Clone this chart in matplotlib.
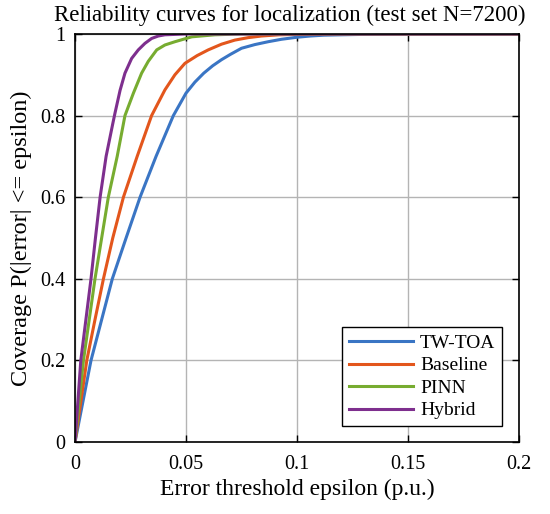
import matplotlib
matplotlib.use("Agg")
import matplotlib.pyplot as plt

plt.rcParams['font.family'] = ['Liberation Serif', 'DejaVu Serif']

labels = ["TW-TOA", "Baseline", "PINN", "Hybrid"]
colors = ["#3a75c4", "#e3561c", "#77ac30", "#7e2f8e"]

tw_x = [0, 0.0036, 0.0072, 0.012, 0.0168, 0.023, 0.0293, 0.0365, 0.0443, 0.050,
        0.054, 0.058, 0.062, 0.066, 0.070, 0.075, 0.081, 0.087, 0.093, 0.100,
        0.106, 0.112, 0.120, 0.130, 0.150, 0.200]
tw_y = [0, 0.10, 0.20, 0.30, 0.40, 0.50, 0.60, 0.70, 0.80, 0.855,
        0.882, 0.904, 0.922, 0.937, 0.950, 0.965, 0.974, 0.981, 0.987, 0.992,
        0.995, 0.997, 0.998, 0.999, 1.0, 1.0]

base_x = [0, 0.0053, 0.009, 0.0128, 0.017, 0.0218, 0.028, 0.0345, 0.0405, 0.045,
          0.0495, 0.055, 0.060, 0.066, 0.072, 0.078, 0.084, 0.092, 0.100, 0.120, 0.200]
base_y = [0, 0.20, 0.30, 0.40, 0.50, 0.60, 0.70, 0.80, 0.863, 0.900,
          0.928, 0.947, 0.961, 0.975, 0.985, 0.991, 0.995, 0.998, 0.999, 1.0, 1.0]

pinn_x = [0, 0.0038, 0.009, 0.012, 0.015, 0.019, 0.0225, 0.0263, 0.030, 0.033,
          0.0368, 0.0405, 0.045, 0.0526, 0.063, 0.075, 0.200]
pinn_y = [0, 0.20, 0.40, 0.50, 0.60, 0.70, 0.80, 0.855, 0.904, 0.933,
          0.961, 0.973, 0.981, 0.993, 0.998, 1.0, 1.0]

hyb_x = [0, 0.0026, 0.0072, 0.0092, 0.0113, 0.014, 0.017, 0.018, 0.0203, 0.0225,
         0.0255, 0.0285, 0.0315, 0.0345, 0.0375, 0.0405, 0.050, 0.200]
hyb_y = [0, 0.20, 0.40, 0.50, 0.60, 0.70, 0.78, 0.806, 0.862, 0.904,
         0.940, 0.961, 0.977, 0.989, 0.995, 0.998, 1.0, 1.0]

xticks = [0, 0.05, 0.1, 0.15, 0.2]
xtick_labels = ["0", "0.05", "0.1", "0.15", "0.2"]
yticks = [0, 0.2, 0.4, 0.6, 0.8, 1.0]
ytick_labels = ["0", "0.2", "0.4", "0.6", "0.8", "1"]

fig = plt.figure(figsize=(5.5, 5.14), dpi=100)
ax = fig.add_axes([0.1364, 0.140, 0.8072, 0.7939])

series = [(tw_x, tw_y), (base_x, base_y), (pinn_x, pinn_y), (hyb_x, hyb_y)]
for (xs, ys), lab, col in zip(series, labels, colors):
    ax.plot(xs, ys, color=col, lw=2.2, label=lab, solid_joinstyle='round')

ax.set_xlim(0, 0.2)
ax.set_ylim(0, 1)
ax.set_xticks(xticks)
ax.set_xticklabels(xtick_labels)
ax.set_yticks(yticks)
ax.set_yticklabels(ytick_labels)
ax.grid(True, color="#b4b4b4", lw=1.0)
ax.set_axisbelow(True)
ax.tick_params(direction='in', top=True, right=True, length=5, width=1,
               labelsize=14.5)
ax.tick_params(axis='x', pad=9)
ax.tick_params(axis='y', pad=7)
for s in ax.spines.values():
    s.set_linewidth(1.2)
    s.set_color('black')

ax.set_title("Reliability curves for localization (test set N=7200)", fontsize=16.5,
             pad=9, x=0.484)
ax.set_xlabel("Error threshold epsilon (p.u.)", fontsize=17, labelpad=4)
ax.set_ylabel("Coverage P(|error| <= epsilon)", fontsize=17.5, labelpad=6)

leg = ax.legend(loc='lower right', bbox_to_anchor=(0.962, 0.039), borderaxespad=0,
                fontsize=14, fancybox=False, framealpha=1, edgecolor='black',
                handlelength=3.3, handletextpad=0.35, labelspacing=0.25,
                borderpad=0.35)
leg.get_frame().set_linewidth(1.0)

fig.savefig("out.png", dpi=100)
